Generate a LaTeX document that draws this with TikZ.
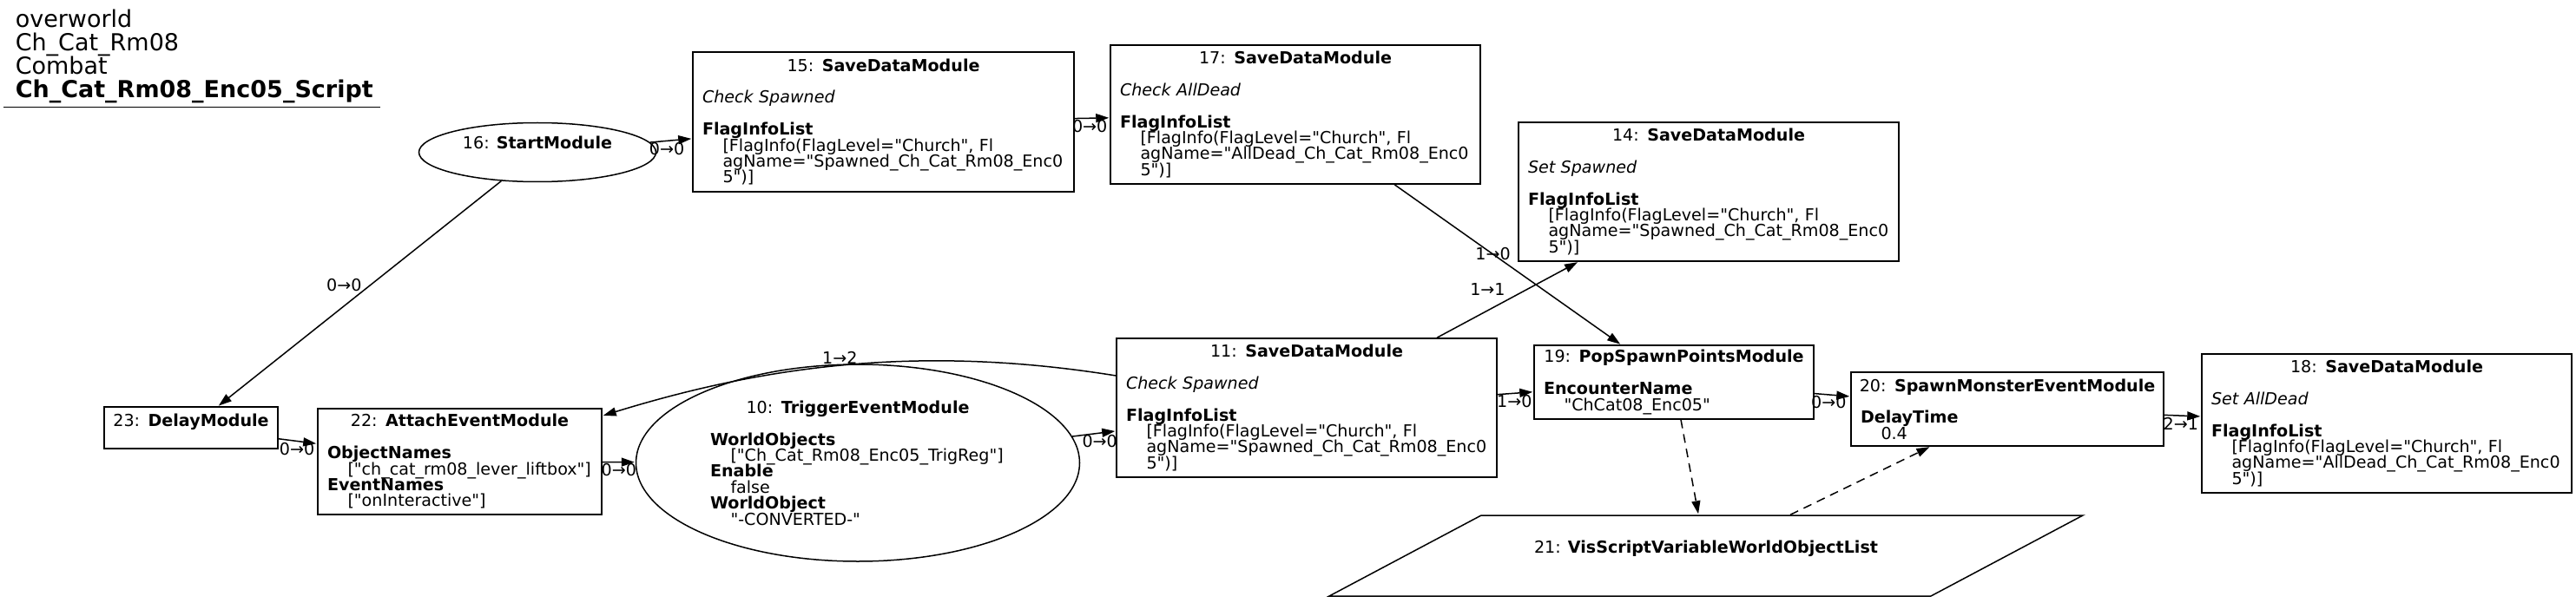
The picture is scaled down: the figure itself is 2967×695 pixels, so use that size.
\documentclass[tikz,border=0pt]{standalone}
\usepackage{fontspec}
\setmainfont{DejaVu Sans}[BoldFont={DejaVu Sans Bold}, ItalicFont={DejaVu Sans Oblique}, Ligatures=TeXOff]
\usetikzlibrary{arrows.meta, shapes.geometric}

\setlength{\parindent}{0pt}
\newcommand{\nodefont}{\fontsize{19.1}{18.4}\selectfont\lineskiplimit=-100pt\relax}
\newcommand{\hdrfont}{\fontsize{27}{27}\selectfont\lineskiplimit=-100pt\relax}
\newcommand{\mtitle}[2]{\makebox[\linewidth]{#1: \textbf{#2}}}
\newcommand{\ind}{\hspace*{23.5pt}}

\tikzset{
  module/.style={draw, rectangle, inner xsep=11pt, inner ysep=0pt, align=left, font=\nodefont},
  startnode/.style={draw, ellipse, inner sep=0pt, font=\nodefont},
  lbl/.style={font=\nodefont, inner sep=1pt},
  varlink/.style={dash pattern=on 10pt off 7pt}
}

\begin{document}
\begin{tikzpicture}[->, >={Triangle[length=15pt, width=10pt]}, shorten >=1pt, x=1pt, y=-1pt, line width=1.5pt]
  \useasboundingbox (0,0) rectangle (2967,695);

  %% header
  \node[align=left, inner sep=0pt, font=\hdrfont, anchor=north west] (hdr) at (17,10.2)
    {overworld\\Ch\_Cat\_Rm08\\Combat\\\textbf{Ch\_Cat\_Rm08\_Enc05\_Script}};
  \draw[-] (4,123.3) -- (439,123.3);

  %% upper row
  \node[startnode, minimum width=273pt, minimum height=68pt, text depth=23pt] (v16) at (619,175.5) {16: \textbf{StartModule}};
  \node[module, text width=417pt, minimum height=161pt] (v15) at (1017.5,140.5)
    {\mtitle{15}{SaveDataModule}\\[18.4pt]
     \textit{Check Spawned}\\[18.4pt]
     \textbf{FlagInfoList}\\
     \ind[FlagInfo(FlagLevel="Church", Fl\\
     \ind agName="Spawned\_Ch\_Cat\_Rm08\_Enc0\\
     \ind 5")]};
  \node[module, text width=404pt, minimum height=160pt] (v17) at (1492,132)
    {\mtitle{17}{SaveDataModule}\\[18.4pt]
     \textit{Check AllDead}\\[18.4pt]
     \textbf{FlagInfoList}\\
     \ind[FlagInfo(FlagLevel="Church", Fl\\
     \ind agName="AllDead\_Ch\_Cat\_Rm08\_Enc0\\
     \ind 5")]};
  \node[module, text width=416pt, minimum height=160pt] (v14) at (1968,221)
    {\mtitle{14}{SaveDataModule}\\[18.4pt]
     \textit{Set Spawned}\\[18.4pt]
     \textbf{FlagInfoList}\\
     \ind[FlagInfo(FlagLevel="Church", Fl\\
     \ind agName="Spawned\_Ch\_Cat\_Rm08\_Enc0\\
     \ind 5")]};

  %% lower row
  \node[module, text width=178pt, minimum height=48pt] (v23) at (220,493)
    {\mtitle{23}{DelayModule}\\ \mbox{}};
  \node[module, text width=305pt, minimum height=122pt] (v22) at (529.5,532)
    {\mtitle{22}{AttachEventModule}\\[18.4pt]
     \textbf{ObjectNames}\\
     \ind["ch\_cat\_rm08\_lever\_liftbox"]\\
     \textbf{EventNames}\\
     \ind["onInteractive"]};
  \node[startnode, align=left, text width=340pt, minimum width=511pt, minimum height=227pt] (v10) at (988,533.5)
    {\mtitle{10}{TriggerEventModule}\\[18.4pt]
     \textbf{WorldObjects}\\
     \ind["Ch\_Cat\_Rm08\_Enc05\_TrigReg"]\\
     \textbf{Enable}\\
     \ind false\\
     \textbf{WorldObject}\\
     \ind"-CONVERTED-"};
  \node[module, text width=416pt, minimum height=160pt] (v11) at (1505,470)
    {\mtitle{11}{SaveDataModule}\\[18.4pt]
     \textit{Check Spawned}\\[18.4pt]
     \textbf{FlagInfoList}\\
     \ind[FlagInfo(FlagLevel="Church", Fl\\
     \ind agName="Spawned\_Ch\_Cat\_Rm08\_Enc0\\
     \ind 5")]};
  \node[module, text width=300pt, minimum height=85pt] (v19) at (1928,440.5)
    {\mtitle{19}{PopSpawnPointsModule}\\[18.4pt]
     \textbf{EncounterName}\\
     \ind"ChCat08\_Enc05"};
  \node[module, text width=338pt, minimum height=85pt] (v20) at (2312,471.5)
    {\mtitle{20}{SpawnMonsterEventModule}\\[18.4pt]
     \textbf{DelayTime}\\
     \ind 0.4};
  \node[module, text width=404pt, minimum height=160pt] (v18) at (2749,488)
    {\mtitle{18}{SaveDataModule}\\[18.4pt]
     \textit{Set AllDead}\\[18.4pt]
     \textbf{FlagInfoList}\\
     \ind[FlagInfo(FlagLevel="Church", Fl\\
     \ind agName="AllDead\_Ch\_Cat\_Rm08\_Enc0\\
     \ind 5")]};

  %% variable list
  \draw[-] (1531,687) -- (1706,594) -- (2399,594) -- (2224,687) -- cycle;
  \node[font=\nodefont, inner sep=0pt, minimum width=520pt, minimum height=93pt, text depth=21.5pt] (v21) at (1965,640.5)
    {21: \textbf{VisScriptVariableWorldObjectList}};

  \path
    (v16) edge node[lbl, pos=0.4, below] {0→0} (v15)
    (v15) edge node[lbl, pos=0.43, below] {0→0} (v17)
    (v16) edge node[lbl, pos=0.46, left=9pt] {0→0} (v23)
    (v23) edge node[lbl, pos=0.48, below] {0→0} (v22)
    (v22) edge node[lbl, pos=0.5, below] {0→0} (v10)
    (v10) edge node[lbl, pos=0.63, below] {0→0} (v11)
    (v11) edge node[lbl, pos=0.64, left=24pt] {1→1} (v14)
    (v17) edge node[lbl, pos=0.435] {1→0} (v19)
    (v11) edge node[lbl, pos=0.47, below] {1→0} (v19)
    (v19) edge node[lbl, pos=0.4, below] {0→0} (v20)
    (v20) edge node[lbl, pos=0.45, below] {2→1} (v18);
  \draw ([yshift=37pt]v11.west) .. controls (1050,395) and (870,425) .. ([yshift=-9pt]v22.north east)
    node[lbl, pos=0.5, above] {1→2};

  \path[varlink]
    (v19) edge (v21)
    (v21) edge (v20);
\end{tikzpicture}
\end{document}
